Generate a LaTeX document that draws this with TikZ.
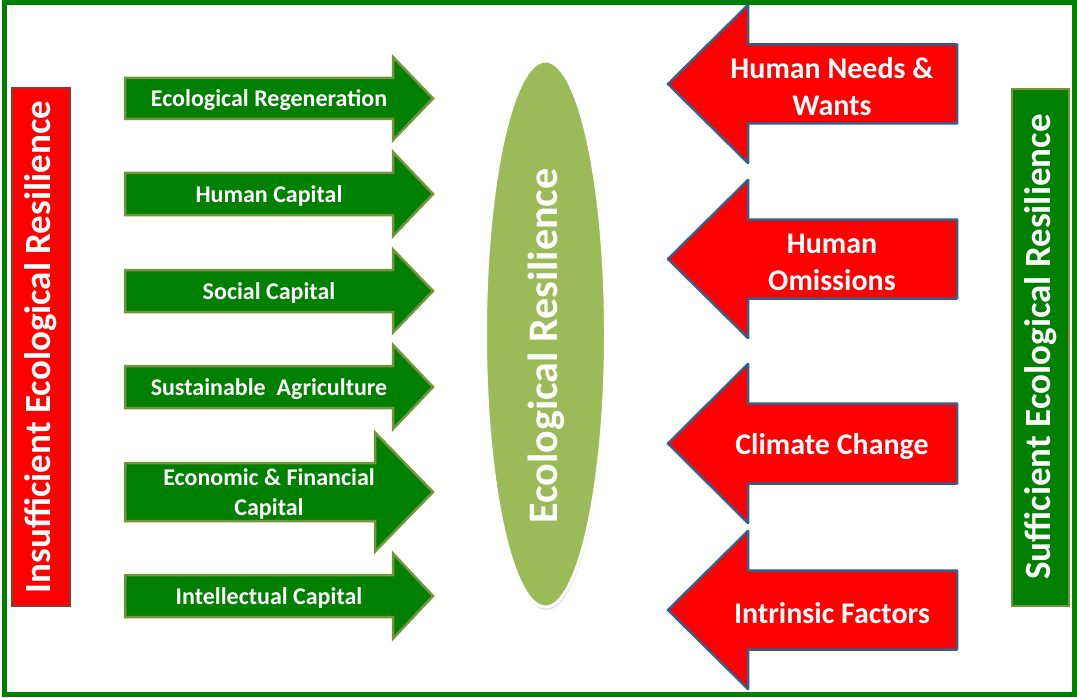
\documentclass[tikz,border=0pt]{standalone}
\usepackage{fontspec}
\setmainfont{Carlito}
\usetikzlibrary{shapes.geometric,shadows}

\definecolor{leafgreen}{HTML}{008000}
\definecolor{olivegreen}{HTML}{77933C}
\definecolor{slateblue}{HTML}{385D8A}
\definecolor{brick}{HTML}{8C3836}
\definecolor{sage}{HTML}{9BBB59}

\tikzset{
  frame/.style={draw=leafgreen, line width=5pt},
  inflowarrow/.style={fill=leafgreen, draw=olivegreen, line width=2.5pt, line join=miter},
  outflowarrow/.style={fill=red, draw=slateblue, line width=2.5pt, line join=round},
  inflowlabel/.style={text=white, font=\bfseries\fontsize{24}{30}\selectfont, align=center, inner sep=0pt},
  outflowlabel/.style={text=white, font=\bfseries\fontsize{30}{37}\selectfont, align=center, inner sep=0pt},
  barlabel/.style={text=white, font=\bfseries\fontsize{37}{40}\selectfont, rotate=90, inner sep=0pt},
  lowbar/.style={fill=red, draw=brick, line width=2pt},
  highbar/.style={fill=leafgreen, draw=olivegreen, line width=2.5pt},
  core/.style={ellipse, fill=sage, draw=white, line width=3pt, inner sep=0pt,
    minimum width=546pt, minimum height=120pt, rotate=90,
    drop shadow={shadow xshift=1pt, shadow yshift=-3pt, opacity=0.25}},
  corelabel/.style={text=white, font=\bfseries\fontsize{42}{46}\selectfont, rotate=90, inner sep=0pt}
}

% green arrow pointing right: name, centre y, body half height, head half height, head base x, label
\newcommand\inflow[6]{%
  \draw[inflowarrow] (125,#2-#3) -- (#5,#2-#3) -- (#5,#2-#4) -- (433,#2)
    -- (#5,#2+#4) -- (#5,#2+#3) -- (125,#2+#3) -- cycle;
  \node[inflowlabel] (#1) at (269,#2+2) {#6};}

% red arrow pointing left: name, centre y, body half height, head half height, label
\newcommand\outflow[5]{%
  \draw[outflowarrow] (957,#2-#3) -- (748,#2-#3) -- (748,#2-#4) -- (668,#2)
    -- (748,#2+#4) -- (748,#2+#3) -- (957,#2+#3) -- cycle;
  \node[outflowlabel] (#1) at (832,#2+3) {#5};}

\begin{document}
\begin{tikzpicture}[x=1pt,y=-1pt]
  \useasboundingbox (0,0) rectangle (1077,698);
  \fill[white] (0,0) rectangle (1077,698);
  \draw[frame] (4.5,3) rectangle (1074.5,694.5);

  % side bars
  \draw[lowbar] (12,88) rectangle (70,606);
  \node[barlabel] (low) at (41,347) {Insufficient Ecological Resilience};
  \draw[highbar] (1012,89) rectangle (1069,606);
  \node[barlabel] (high) at (1041,347) {Sufficient Ecological Resilience};

  % centre
  \node[core] (resilience) at (545.5,334) {};
  \node[corelabel] (resilience text) at (546,346) {Ecological Resilience};

  % contributing capitals
  \inflow{regen}{98.5}{20.5}{41.5}{393}{Ecological Regeneration}
  \inflow{human}{194}{21}{42}{393}{Human Capital}
  \inflow{social}{291}{21}{41.5}{393}{Social Capital}
  \inflow{agri}{387}{21}{42}{393}{Sustainable\ \ Agriculture}
  \inflow{econ}{492}{29}{59.5}{375}{Economic \& Financial\\Capital}
  \inflow{intel}{596}{21}{42.5}{393}{Intellectual Capital}

  % pressures
  \outflow{needs}{84}{39.5}{79}{Human Needs \&\\Wants}
  \outflow{omit}{259}{39.5}{79}{Human\\Omissions}
  \outflow{climate}{443.5}{40}{79.5}{Climate Change}
  \outflow{intrinsic}{610}{39.5}{79}{Intrinsic Factors}
\end{tikzpicture}
\end{document}
